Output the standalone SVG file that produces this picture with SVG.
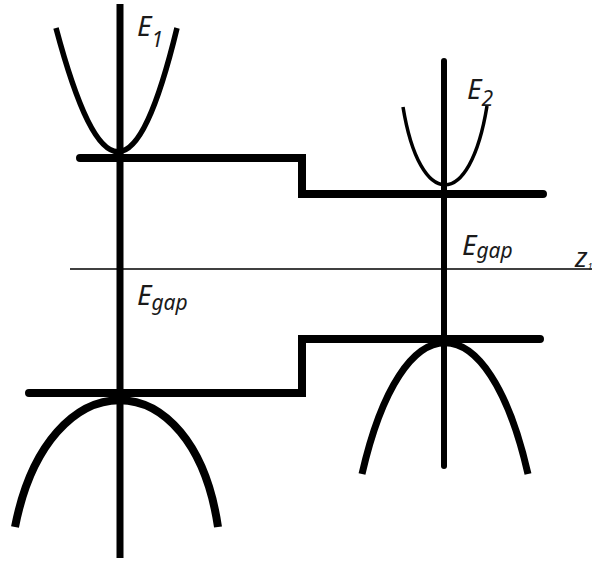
<svg xmlns="http://www.w3.org/2000/svg" width="592" height="562" viewBox="0 0 592 562">
<style>
.ln{fill:none;stroke:#000;stroke-linejoin:miter}
.lbl{font-family:"Noto Sans","Open Sans",sans-serif;font-style:italic;fill:#1a1a1a;font-size:28px}
.sub{font-size:21px}
</style>
<rect width="592" height="562" fill="#fff"/>
<g id="connectors">
<line id="z-axis" class="ln" x1="70" y1="269" x2="592" y2="269" stroke-width="1.3"/>
<path id="conduction-band-edge" class="ln" d="M80,158 H302 V194 H543" stroke-width="8" stroke-linecap="round"/>
<path id="valence-band-edge" class="ln" d="M29,393 H302 V339 H540" stroke-width="8" stroke-linecap="round"/>
</g>
<g id="material1">
<line class="ln" x1="120" y1="4" x2="120" y2="558" stroke-width="7"/>
<path class="ln" d="M56,28 C100,193 137,193 177,28" stroke-width="5.5"/>
<path class="ln" d="M15,527 C48,358 193,358 218,527" stroke-width="8"/>
</g>
<g id="material2">
<line class="ln" x1="444" y1="61" x2="444" y2="466" stroke-width="6" stroke-linecap="round"/>
<path class="ln" d="M403,107 C420,211 470,211 487,106" stroke-width="3.5"/>
<path class="ln" d="M362,474 C402,299 488,299 528,474" stroke-width="7"/>
</g>
<g id="labels">
<text class="lbl" x="137" y="36">E<tspan class="sub" font-size="18" dy="11">1</tspan></text>
<text class="lbl" x="467" y="99">E<tspan class="sub" font-size="20" dy="7">2</tspan></text>
<text class="lbl" x="462" y="255">E<tspan class="sub" dy="3">gap</tspan></text>
<text class="lbl" x="137" y="305">E<tspan class="sub" dy="5">gap</tspan></text>
<text class="lbl" x="575" y="267" font-size="17">z<tspan font-size="9" dy="3">1</tspan></text>
</g>
</svg>
